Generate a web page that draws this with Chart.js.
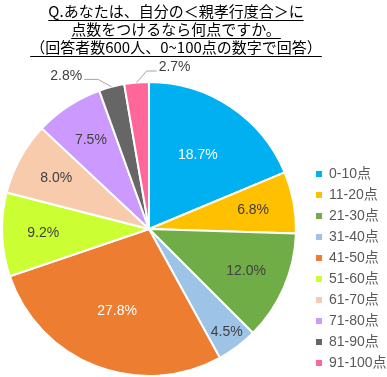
<!DOCTYPE html>
<html>
<head>
<meta charset="utf-8">
<script src="https://cdn.jsdelivr.net/npm/chart.js@4/dist/chart.umd.min.js"></script>
<style>
    html, body { margin: 0; padding: 0; background: #fff; }
    #wrap { width: 387px; height: 377px; position: relative; }
</style>
</head>
<body>
<div id="wrap"><canvas id="grafico" width="387" height="377"></canvas></div>
<script>
///////////////////////////////////////////////////////////////////
/// DATOS
///////////////////////////////////////////////////////////////////
const tituloLineas = [
    "Q.あなたは、自分の＜親孝行度合＞に",
    "点数をつけるなら何点ですか。",
    "（回答者数600人、0~100点の数字で回答）"
];
const categorias = ["0-10点", "11-20点", "21-30点", "31-40点", "41-50点", "51-60点", "61-70点", "71-80点", "81-90点", "91-100点"];
const porcentajes = [18.7, 6.8, 12.0, 4.5, 27.8, 9.2, 8.0, 7.5, 2.8, 2.7];
const colores = ["#00B0F0", "#FFC000", "#70AD47", "#9DC3E6", "#ED7D31", "#CCFF33", "#F8CBAD", "#CC99FF", "#666666", "#FF6699"];

const fuenteLatina = '"Liberation Sans", Arial, "Noto Sans CJK JP", sans-serif';

///////////////////////////////////////////////////////////////////
/// PLUGINS: ajuste de area, titulo subrayado y etiquetas
///////////////////////////////////////////////////////////////////
// el pie queda un poco a la izquierda del centro del area libre
const ajusteArea = {
    id: "ajusteArea",
    afterLayout(chart) {
        chart.chartArea.left -= 11;
        chart.chartArea.width += 11;
    }
};

const tituloSubrayado = {
    id: "tituloSubrayado",
    afterDraw(chart) {
        const ctx = chart.ctx;
        ctx.save();
        ctx.font = '15px "Noto Sans CJK JP", sans-serif';
        ctx.fillStyle = "#000";
        ctx.strokeStyle = "#000";
        ctx.lineWidth = 1;
        ctx.textAlign = "center";
        ctx.textBaseline = "middle";
        tituloLineas.forEach((linea, i) => {
            const y = 11 + i * 18;
            ctx.fillText(linea, 176, y);
            const w = ctx.measureText(linea).width;
            ctx.beginPath();
            ctx.moveTo(176 - w / 2, y + 9.5);
            ctx.lineTo(176 + w / 2, y + 9.5);
            ctx.stroke();
        });
        ctx.restore();
    }
};

const etiquetasPie = {
    id: "etiquetasPie",
    afterDatasetsDraw(chart) {
        const ctx = chart.ctx;
        const meta = chart.getDatasetMeta(0);
        ctx.save();
        ctx.font = "14px " + fuenteLatina;
        ctx.textBaseline = "middle";
        meta.data.forEach((arc, i) => {
            const v = porcentajes[i];
            const p = arc.getProps(["x", "y", "startAngle", "endAngle", "outerRadius"], true);
            const medio = (p.startAngle + p.endAngle) / 2;
            const texto = v.toFixed(1) + "%";
            const r = p.outerRadius;

            if (v < 3) {
                // etiqueta fuera con linea guia
                const dir = Math.cos(medio) < -0.15 ? -1 : 1;
                const ang2 = medio + dir * 0.07;
                const x0 = p.x + Math.cos(medio) * r, y0 = p.y + Math.sin(medio) * r;
                const x1 = p.x + Math.cos(ang2) * (r + 11), y1 = p.y + Math.sin(ang2) * (r + 11);
                const x2 = x1 + dir * (dir < 0 ? 14 : 10);
                ctx.strokeStyle = "#A6A6A6";
                ctx.lineWidth = 1;
                ctx.beginPath();
                ctx.moveTo(x0, y0);
                ctx.lineTo(x1, y1);
                ctx.lineTo(x2, y1);
                ctx.stroke();
                ctx.fillStyle = "#404040";
                ctx.textAlign = dir < 0 ? "right" : "left";
                ctx.fillText(texto, x2 + dir * 2, y1 - 3.5);
                return;
            }

            const f = v >= 15 ? 0.6 : (v < 5 ? 0.88 : 0.72);
            ctx.fillStyle = v >= 15 ? "#FFFFFF" : "#404040";
            ctx.textAlign = "center";
            ctx.fillText(texto, p.x + Math.cos(medio) * r * f, p.y + Math.sin(medio) * r * f);
        });
        ctx.restore();
    }
};

///////////////////////////////////////////////////////////////////
/// GRAFICO
///////////////////////////////////////////////////////////////////
const ctxGrafico = document.getElementById("grafico").getContext("2d");
new Chart(ctxGrafico, {
    type: "pie",
    data: {
        labels: categorias,
        datasets: [{
            data: porcentajes,
            backgroundColor: colores,
            borderColor: "#FFFFFF",
            borderWidth: 2
        }]
    },
    options: {
        responsive: false,
        animation: false,
        layout: { padding: { top: 81, bottom: 0, left: 0, right: 0 } },
        plugins: {
            tooltip: { enabled: false },
            title: { display: false },
            legend: {
                position: "right",
                align: "end",
                maxWidth: 78,
                labels: {
                    boxWidth: 6,
                    boxHeight: 6,
                    padding: 7,
                    color: "#595959",
                    font: { size: 14, family: fuenteLatina },
                    generateLabels: chart => Chart.overrides.pie.plugins.legend.labels.generateLabels(chart)
                        .map(l => ({ ...l, lineWidth: 0 }))
                }
            }
        }
    },
    plugins: [ajusteArea, etiquetasPie, tituloSubrayado]
});
</script>
</body>
</html>
